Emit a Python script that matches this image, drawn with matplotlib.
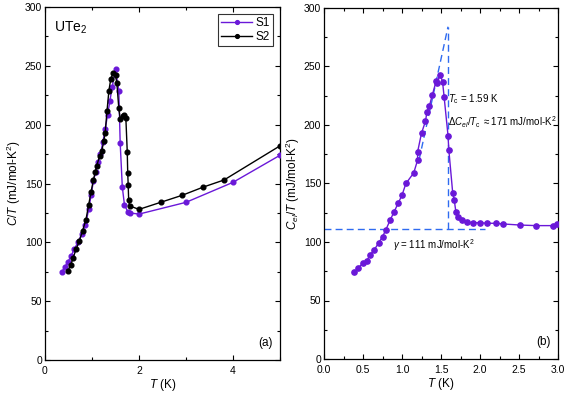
import matplotlib
matplotlib.use("Agg")
import matplotlib.pyplot as plt
from matplotlib.ticker import MultipleLocator

plt.rcParams['font.family'] = ['Liberation Sans', 'DejaVu Sans']
plt.rcParams['mathtext.fontset'] = 'custom'
plt.rcParams['mathtext.rm'] = 'Liberation Sans'
plt.rcParams['mathtext.it'] = 'Liberation Sans:italic'

# Panel (a): C/T vs T for two samples
s1_T = [0.36, 0.42, 0.48, 0.55, 0.62, 0.70, 0.78, 0.86, 0.93, 0.98, 1.03, 1.08, 1.13, 1.18, 1.23,
        1.28, 1.33, 1.38, 1.43, 1.50, 1.57, 1.60, 1.645, 1.69, 1.76, 1.80, 2.0, 3.0, 4.0, 5.0]
s1_C = [75, 79, 83, 88, 94, 100, 107, 115, 128, 140, 152, 160, 168, 175, 185,
        196, 208, 220, 232, 247, 229, 184, 147, 132, 126, 125, 124, 134, 151, 174]

s2_T = [0.49, 0.55, 0.60, 0.66, 0.73, 0.80, 0.87, 0.93, 0.98, 1.03, 1.07, 1.10, 1.16, 1.21,
        1.25, 1.28, 1.32, 1.36, 1.40, 1.45, 1.50, 1.53, 1.57, 1.60, 1.65, 1.69, 1.72,
        1.75, 1.76, 1.77, 1.78, 1.80, 2.0, 2.46, 2.92, 3.37, 3.81, 5.0]
s2_C = [76, 81, 87, 94, 101, 110, 119, 132, 143, 153, 160, 165, 173, 178,
        186, 193, 212, 229, 239, 244, 242, 235, 214, 205, 207, 208, 206,
        177, 159, 149, 136, 131, 128, 134, 140, 147, 153, 182]

# Panel (b): electronic C/T
b_T = [0.39, 0.44, 0.50, 0.55, 0.59, 0.64, 0.70, 0.75, 0.79, 0.85, 0.90, 0.95, 1.00, 1.05,
       1.15, 1.20, 1.20, 1.25, 1.30, 1.32, 1.35, 1.39, 1.44, 1.45, 1.49, 1.52, 1.54, 1.59,
       1.60, 1.65, 1.67, 1.69, 1.72, 1.77, 1.83, 1.91, 2.0, 2.09, 2.21, 2.30, 2.51, 2.72, 2.93, 2.99]
b_C = [74, 78, 82, 84, 89, 93, 99, 104.5, 110, 119, 126, 133, 140, 150,
       159, 170, 177, 193, 203, 211, 216, 226, 238, 236, 243, 237, 224, 191,
       179, 142, 136, 126, 121.5, 119, 117, 116.5, 116.5, 116, 116, 115.4, 114.5, 114, 114, 115]

gamma = 111
Tc = 1.59
jump_top = 284
slope_T = [1.22, 1.59]

purple = '#6A18D8'
blue = '#2F6BF0'

fig = plt.figure(figsize=(5.71, 3.99), dpi=100)
axA = fig.add_axes([45/571, 39/399, 235/571, 353/399])
axB = fig.add_axes([324/571, 40/399, 234/571, 351/399])

axA.plot(s1_T, s1_C, '-o', color=purple, ms=3.4, lw=1.0, label='S1', zorder=3)
axA.plot(s2_T, s2_C, '-o', color='black', ms=3.4, lw=1.0, label='S2', zorder=4)
axA.set_xlim(0, 5)
axA.set_ylim(0, 300)
axA.xaxis.set_major_locator(MultipleLocator(2))
axA.xaxis.set_minor_locator(MultipleLocator(1))
axA.yaxis.set_major_locator(MultipleLocator(50))
axA.yaxis.set_minor_locator(MultipleLocator(25))
axA.set_xlabel(r'$T$ (K)', fontsize=8.5, labelpad=1)
axA.set_ylabel(r'$C/T$ (mJ/mol-K$^2$)', fontsize=8.5, labelpad=1)
axA.text(0.04, 0.965, r'UTe$_2$', transform=axA.transAxes, fontsize=10, va='top', ha='left')
axA.text(0.97, 0.03, '(a)', transform=axA.transAxes, fontsize=8.5, va='bottom', ha='right')
leg = axA.legend(loc='upper right', fontsize=8.5, frameon=True, fancybox=False,
                 edgecolor='black', handlelength=2.6, markerscale=0.8,
                 borderpad=0.25, labelspacing=0.2, handletextpad=0.3,
                 borderaxespad=0.6)
leg.get_frame().set_linewidth(0.8)

axB.plot(b_T, b_C, '-o', color=purple, ms=3.8, lw=1.0, zorder=3)
axB.plot([0, 2.06], [gamma, gamma], '--', color=blue, lw=1.0, dashes=(5, 3), zorder=2)
axB.plot([Tc, Tc], [gamma, jump_top], '--', color=blue, lw=1.0, dashes=(5, 3), zorder=2)
slope = (jump_top - 238) / (Tc - 1.44)
axB.plot(slope_T, [jump_top - slope * (Tc - slope_T[0]), jump_top], '--', color=blue, lw=1.0,
         dashes=(5, 3), zorder=2)
axB.set_xlim(0, 3)
axB.set_ylim(0, 300)
axB.xaxis.set_major_locator(MultipleLocator(0.5))
axB.xaxis.set_minor_locator(MultipleLocator(0.25))
axB.yaxis.set_major_locator(MultipleLocator(50))
axB.yaxis.set_minor_locator(MultipleLocator(25))
axB.set_xlabel(r'$T$ (K)', fontsize=8.5, labelpad=1)
axB.set_ylabel(r'$C_{el}/T$ (mJ/mol-K$^2$)', fontsize=8.5, labelpad=1)
axB.text(0.97, 0.03, '(b)', transform=axB.transAxes, fontsize=8.5, va='bottom', ha='right')
axB.text(1.585, 222, r'$T_{\rm c}$ = 1.59 K', fontsize=7, va='center', ha='left')
axB.text(1.585, 202, r'$\Delta C_{el}/T_{\rm c}$ $\approx$171 mJ/mol-K$^2$', fontsize=7, va='center', ha='left')
axB.text(0.88, 97, r'$\gamma$ = 111 mJ/mol-K$^2$', fontsize=7, va='center', ha='left')

for ax in (axA, axB):
    ax.tick_params(which='both', direction='in', top=True, right=True, labelsize=7.5)
    ax.tick_params(axis='x', which='both', pad=4)
    ax.tick_params(axis='y', which='both', pad=2)
    ax.tick_params(which='major', length=3.5, width=0.8)
    ax.tick_params(which='minor', length=2, width=0.8)
    for s in ax.spines.values():
        s.set_linewidth(0.9)

fig.savefig('out.png', dpi=100)
